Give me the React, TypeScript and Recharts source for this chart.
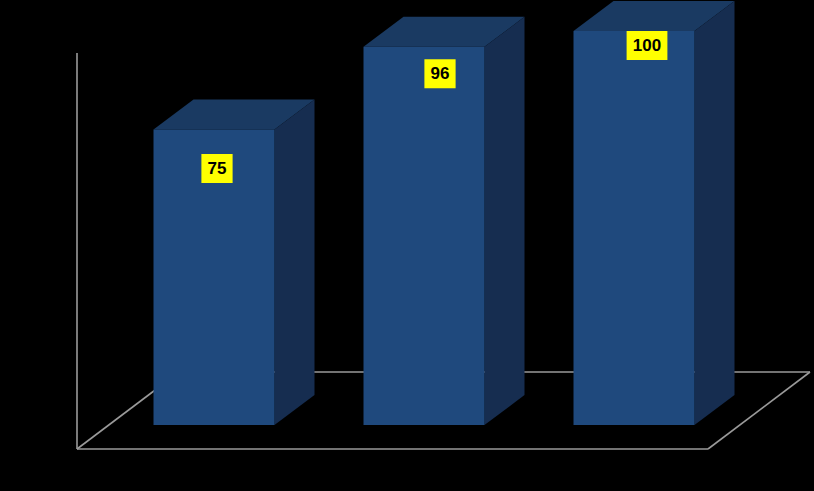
import React from 'react';
import { BarChart, Bar, XAxis, YAxis, LabelList } from 'recharts';

const categories = ['A', 'B', 'C'];
const values = [75, 96, 100];
const labelOffsets = [
  { dx: 3, dy: 39 },
  { dx: 16, dy: 27 },
  { dx: 13, dy: 14.5 },
];

const data = categories.map((c, i) => ({ name: c, value: values[i] }));

const CHART_W = 814;
const CHART_H = 491;
const MARGIN = { top: 31, right: 75.5, bottom: 66, left: 108.5 };

const DEPTH_X = 40;
const DEPTH_Y = 30;
const FRONT = '#1F497D';
const TOP = '#1A3A62';
const SIDE = '#162D50';
const LINE = '#9a9a9a';

const Bar3D = (props: any) => {
  const { x, y, width, height } = props;
  if (height <= 0) return null;
  const r = x + width;
  const b = y + height;
  return (
    <g>
      <polygon
        points={`${x},${y} ${x + DEPTH_X},${y - DEPTH_Y} ${r + DEPTH_X},${y - DEPTH_Y} ${r},${y}`}
        fill={TOP}
      />
      <polygon
        points={`${r},${y} ${r + DEPTH_X},${y - DEPTH_Y} ${r + DEPTH_X},${b - DEPTH_Y} ${r},${b}`}
        fill={SIDE}
      />
      <rect x={x} y={y} width={width} height={height} fill={FRONT} />
    </g>
  );
};

const Floor = () => {
  const left = MARGIN.left;
  const top = MARGIN.top;
  const width = CHART_W - MARGIN.left - MARGIN.right;
  const zeroY = CHART_H - MARGIN.bottom;
  const frontY = zeroY + 24;
  const backY = zeroY - 53;
  const leftF = left - 31.5;
  const rightF = left + width - 30.5;
  const dX = 102;
  return (
    <svg
      width={CHART_W}
      height={CHART_H}
      style={{ position: 'absolute', left: 0, top: 0 }}
    >
      <g stroke={LINE} strokeWidth={1.6} fill="none">
        <line x1={leftF} y1={top + 22} x2={leftF} y2={frontY} />
        <line x1={leftF} y1={frontY} x2={rightF} y2={frontY} />
        <line x1={rightF} y1={frontY} x2={rightF + dX} y2={backY} />
        <line x1={leftF + dX} y1={backY} x2={rightF + dX} y2={backY} />
        <line x1={leftF} y1={frontY} x2={leftF + dX} y2={backY} />
      </g>
    </svg>
  );
};

const ValueLabel = (props: any) => {
  const { x, y, width, value, index } = props;
  const off = labelOffsets[index] || { dx: 0, dy: 0 };
  const cx = x + width / 2 + off.dx;
  const cy = y + off.dy;
  const text = String(value);
  const w = text.length * 9.6 + 12;
  const h = 29;
  return (
    <g>
      <rect x={cx - w / 2} y={cy - h / 2} width={w} height={h} fill="#FFFF00" />
      <text
        x={cx}
        y={cy + 1}
        textAnchor="middle"
        dominantBaseline="middle"
        fontFamily="'Liberation Sans', Arial, sans-serif"
        fontSize={17}
        fontWeight="bold"
        fill="#000"
      >
        {text}
      </text>
    </g>
  );
};

export default function App() {
  return (
    <div style={{ position: 'fixed', left: 0, top: 0, width: CHART_W, height: CHART_H, background: '#000' }}>
      <Floor />
      <div style={{ position: 'absolute', left: 0, top: 0 }}>
        <BarChart width={CHART_W} height={CHART_H} data={data} margin={MARGIN}>
          <XAxis dataKey="name" hide />
          <YAxis domain={[0, 100]} hide />
          <Bar dataKey="value" barSize={121} shape={<Bar3D />} isAnimationActive={false}>
            <LabelList dataKey="value" content={<ValueLabel />} />
          </Bar>
        </BarChart>
      </div>
    </div>
  );
}
